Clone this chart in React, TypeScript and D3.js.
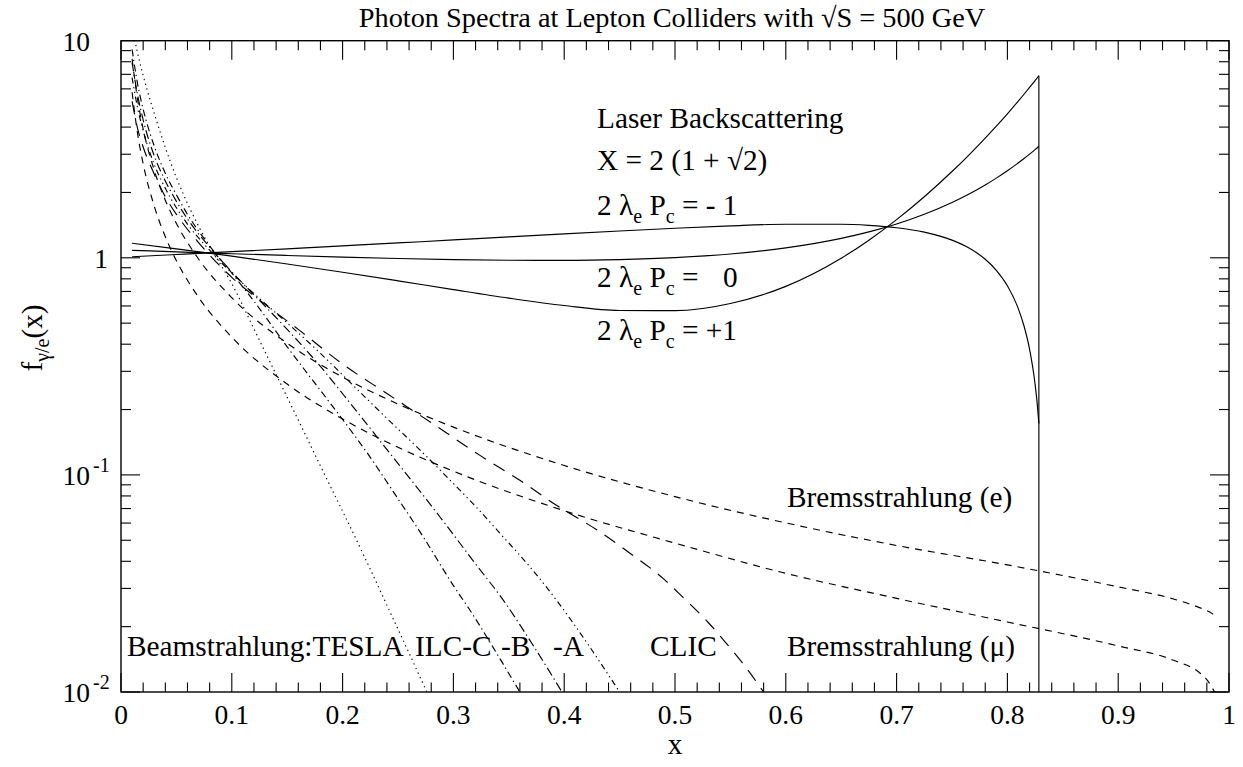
import React from 'react';
import * as d3 from 'd3';

const W = 1243;
const H = 767;
const PL = 121, PR = 1229, PT = 40.7, PB = 692;

// Laser backscattering (Compton) spectra, X = 2(1+sqrt2), x_max = 0.8284
const laserX = [0.01, 0.05, 0.1, 0.15, 0.2, 0.25, 0.3, 0.35, 0.4, 0.45, 0.5, 0.55, 0.6, 0.65, 0.675, 0.7, 0.725, 0.75, 0.765, 0.78, 0.79, 0.8, 0.81, 0.815, 0.82, 0.825, 0.827, 0.8284];
const laserMinus1 = [1.0113, 1.0354, 1.067, 1.0999, 1.1345, 1.1708, 1.2085, 1.2478, 1.2882, 1.3288, 1.3682, 1.4029, 1.4269, 1.427, 1.4104, 1.3753, 1.3122, 1.2059, 1.1114, 0.9843, 0.8758, 0.7432, 0.5803, 0.485, 0.3792, 0.2611, 0.2102, 0.1725];
const laserZero = [1.0827, 1.0651, 1.0443, 1.025, 1.0076, 0.9927, 0.9811, 0.9741, 0.9733, 0.9812, 1.0018, 1.0415, 1.1107, 1.2287, 1.3162, 1.432, 1.5871, 1.7986, 1.9632, 2.1661, 2.3284, 2.5175, 2.7394, 2.865, 3.0017, 3.1511, 3.2146, 3.2614];
const laserPlus1 = [1.1668, 1.1001, 1.0177, 0.9367, 0.8582, 0.7832, 0.7135, 0.652, 0.6027, 0.5721, 0.5707, 0.616, 0.7386, 0.9953, 1.2054, 1.4989, 1.9109, 2.4965, 2.9661, 3.5576, 4.0387, 4.6064, 5.2814, 5.6669, 6.0893, 6.5533, 6.7517, 6.898];
const laserEdgeX = 0.8284;

// Beamstrahlung spectra
const teslaX = [0.01, 0.0126, 0.02, 0.03, 0.04, 0.05, 0.06, 0.07, 0.08, 0.09, 0.1, 0.12, 0.14, 0.16, 0.18, 0.2, 0.22, 0.24, 0.26, 0.276];
const teslaY = [11.8, 10.0, 6.92, 4.63, 3.22, 2.34, 1.78, 1.4, 1.13, 0.93, 0.76, 0.47, 0.29, 0.179, 0.11, 0.068, 0.0417, 0.0251, 0.0151, 0.01];
const ilcCX = [0.01, 0.015, 0.02, 0.03, 0.04, 0.05, 0.06, 0.08, 0.1, 0.12, 0.15, 0.18, 0.2, 0.2247, 0.25, 0.2728, 0.3, 0.315, 0.34, 0.36];
const ilcCY = [9.12, 6.31, 4.84, 3.27, 2.45, 1.95, 1.585, 1.135, 0.851, 0.631, 0.389, 0.245, 0.18, 0.121, 0.0776, 0.0518, 0.0309, 0.0238, 0.0148, 0.01];
const ilcBX = [0.01, 0.015, 0.02, 0.03, 0.04, 0.05, 0.06, 0.08, 0.1, 0.12, 0.15, 0.18, 0.21, 0.2428, 0.2879, 0.32, 0.345, 0.37, 0.398];
const ilcBY = [7.94, 5.62, 4.32, 2.95, 2.26, 1.82, 1.51, 1.12, 0.861, 0.676, 0.468, 0.316, 0.204, 0.1256, 0.064, 0.0389, 0.0265, 0.017, 0.01];
const ilcAX = [0.01, 0.015, 0.02, 0.03, 0.04, 0.05, 0.06, 0.08, 0.1, 0.12, 0.15, 0.18, 0.21, 0.24, 0.27, 0.294, 0.32, 0.345, 0.37, 0.393, 0.42, 0.45];
const ilcAY = [6.76, 4.9, 3.85, 2.69, 2.09, 1.7, 1.43, 1.084, 0.851, 0.684, 0.501, 0.363, 0.257, 0.182, 0.13, 0.098, 0.0716, 0.0518, 0.0372, 0.0265, 0.017, 0.01];
const clicX = [0.01, 0.015, 0.02, 0.03, 0.04, 0.05, 0.07, 0.1, 0.13, 0.16, 0.2, 0.24, 0.28, 0.324, 0.36, 0.393, 0.43, 0.459, 0.49, 0.5075, 0.53, 0.5436, 0.56, 0.58];
const clicY = [5.25, 3.94, 3.24, 2.43, 1.91, 1.585, 1.175, 0.813, 0.61, 0.468, 0.324, 0.237, 0.174, 0.123, 0.0944, 0.0724, 0.0556, 0.0437, 0.0331, 0.0272, 0.0209, 0.0174, 0.0138, 0.01];

// Bremsstrahlung (Weizsaecker-Williams) spectra
const bremEX = [0.01, 0.015, 0.02, 0.03, 0.04, 0.05, 0.07, 0.1, 0.15, 0.2, 0.25, 0.3, 0.4, 0.5, 0.6, 0.7, 0.8, 0.9, 0.95, 0.974, 0.983, 0.99];
const bremEY = [8.25, 5.35, 3.92, 2.53, 1.84, 1.44, 0.987, 0.655, 0.404, 0.282, 0.212, 0.166, 0.1105, 0.0794, 0.0601, 0.0473, 0.0385, 0.0305, 0.0268, 0.0244, 0.0233, 0.022];
const bremMuX = [0.01, 0.015, 0.02, 0.03, 0.04, 0.05, 0.07, 0.1, 0.15, 0.2, 0.25, 0.3, 0.4, 0.5, 0.6, 0.7, 0.8, 0.9, 0.95, 0.974, 0.98, 0.987];
const bremMuY = [5.79, 3.72, 2.71, 1.73, 1.25, 0.97, 0.658, 0.431, 0.262, 0.181, 0.134, 0.104, 0.0684, 0.0485, 0.0352, 0.027, 0.021, 0.0163, 0.014, 0.0122, 0.0114, 0.01];

// Axis ticks
const xTickValues = [0, 0.1, 0.2, 0.3, 0.4, 0.5, 0.6, 0.7, 0.8, 0.9, 1];
const xTickLabels = ['0', '0.1', '0.2', '0.3', '0.4', '0.5', '0.6', '0.7', '0.8', '0.9', '1'];
const yTickValues = [10, 1, 0.1, 0.01];
const yTickBase = ['10', '1', '10', '10'];
const yTickExp = ['', '', '-1', '-2'];

const FONT = '"Liberation Serif", "Times New Roman", Times, serif';

export default function App() {
  const x = d3.scaleLinear().domain([0, 1]).range([PL, PR]);
  const y = d3.scaleLog().domain([0.01, 10]).range([PB, PT]);

  const line = (xs: number[], ys: number[]) =>
    d3
      .line<number>()
      .x((_, i) => x(xs[i]))
      .y((v) => y(v))
      .curve(d3.curveMonotoneX)(ys) || '';

  const curves = [
    { xs: laserX, ys: laserMinus1, dash: undefined },
    { xs: laserX, ys: laserZero, dash: undefined },
    { xs: laserX, ys: laserPlus1, dash: undefined },
    { xs: teslaX, ys: teslaY, dash: '1.3,3.7' },
    { xs: ilcCX, ys: ilcCY, dash: '7,3.5,1.3,3.5' },
    { xs: ilcBX, ys: ilcBY, dash: '9,3.5,1.3,3.5' },
    { xs: ilcAX, ys: ilcAY, dash: '6,3.5,1.3,3.5,1.3,3.5' },
    { xs: clicX, ys: clicY, dash: '13,9' },
    { xs: bremEX, ys: bremEY, dash: '7,6' },
    { xs: bremMuX, ys: bremMuY, dash: '7,6' },
  ];

  const minorX = d3.range(0, 51).map((i) => i * 0.02);
  const minorY: number[] = [];
  [-2, -1, 0].forEach((k) => {
    for (let m = 2; m <= 9; m++) minorY.push(m * Math.pow(10, k));
  });

  const textStyle = { fontFamily: FONT, fill: '#000' } as const;
  const LBL = 29.3;
  const SUB = 20;

  return (
    <svg
      width={W}
      height={H}
      style={{ position: 'absolute', left: 0, top: 0, background: '#fff' }}
    >
      <rect x={0} y={0} width={W} height={H} fill="#fff" />
      <defs>
        <clipPath id="plotClip">
          <rect x={PL} y={PT} width={PR - PL} height={PB - PT} />
        </clipPath>
      </defs>

      {/* Ticks */}
      <g stroke="#000" strokeWidth={1.1}>
        {minorX.map((v, i) => {
          const major = i % 5 === 0;
          const len = major ? 19 : 9.5;
          return (
            <g key={'xt' + i}>
              <line x1={x(v)} x2={x(v)} y1={PB} y2={PB - len} />
              <line x1={x(v)} x2={x(v)} y1={PT} y2={PT + len} />
            </g>
          );
        })}
        {yTickValues.map((v, i) => (
          <g key={'ytM' + i}>
            <line x1={PL} x2={PL + 19} y1={y(v)} y2={y(v)} />
            <line x1={PR} x2={PR - 19} y1={y(v)} y2={y(v)} />
          </g>
        ))}
        {minorY.map((v, i) => (
          <g key={'ytm' + i}>
            <line x1={PL} x2={PL + 10} y1={y(v)} y2={y(v)} />
            <line x1={PR} x2={PR - 10} y1={y(v)} y2={y(v)} />
          </g>
        ))}
      </g>

      {/* Curves */}
      <g clipPath="url(#plotClip)" fill="none" stroke="#000" strokeWidth={1.15}>
        {curves.map((c, i) => (
          <path key={'c' + i} d={line(c.xs, c.ys)} strokeDasharray={c.dash} />
        ))}
        <line
          x1={x(laserEdgeX)}
          x2={x(laserEdgeX)}
          y1={y(laserPlus1[laserPlus1.length - 1])}
          y2={PB}
        />
      </g>

      {/* Frame */}
      <rect x={PL} y={PT} width={PR - PL} height={PB - PT} fill="none" stroke="#000" strokeWidth={1.4} />

      {/* X tick labels */}
      {xTickValues.map((v, i) => (
        <text key={'xl' + i} x={x(v)} y={724} textAnchor="middle" fontSize={27.5} style={textStyle}>
          {xTickLabels[i]}
        </text>
      ))}

      {/* Y tick labels */}
      {yTickValues.map((v, i) =>
        yTickExp[i] === '' && yTickBase[i] === '1' ? (
          <text key={'yl' + i} x={108} y={y(v) + 10} textAnchor="end" fontSize={27.5} style={textStyle}>
            {yTickBase[i]}
          </text>
        ) : (
          <g key={'yl' + i}>
            <text x={90} y={y(v) + 10} textAnchor="end" fontSize={27.5} style={textStyle}>
              {yTickBase[i]}
            </text>
            {yTickExp[i] && (
              <text x={93} y={y(v) - 3} fontSize={SUB} style={textStyle}>
                {yTickExp[i]}
              </text>
            )}
          </g>
        )
      )}

      {/* Title */}
      <text x={672} y={26.5} textAnchor="middle" fontSize={28.3} style={textStyle}>
        Photon Spectra at Lepton Colliders with √S = 500 GeV
      </text>

      {/* Axis titles */}
      <text x={675} y={754} textAnchor="middle" fontSize={LBL} style={textStyle}>
        x
      </text>
      <text transform="translate(42,338) rotate(-90)" textAnchor="middle" fontSize={LBL} style={textStyle}>
        f<tspan fontSize={SUB} dy={7}>γ/e</tspan>
        <tspan dy={-7}>(x)</tspan>
      </text>

      {/* Laser annotations */}
      <g fontSize={LBL} style={textStyle}>
        <text x={597} y={128}>Laser Backscattering</text>
        <text x={597} y={170}>X = 2 (1 + √2)</text>
        <text x={597} y={215}>
          2 λ<tspan fontSize={SUB} dy={8}>e</tspan>
          <tspan dy={-8}> P</tspan>
          <tspan fontSize={SUB} dy={8}>c</tspan>
          <tspan dy={-8}> = - 1</tspan>
        </text>
        <text x={597} y={287}>
          2 λ<tspan fontSize={SUB} dy={8}>e</tspan>
          <tspan dy={-8}> P</tspan>
          <tspan fontSize={SUB} dy={8}>c</tspan>
          <tspan dy={-8}> =</tspan>
          <tspan x={723}>0</tspan>
        </text>
        <text x={597} y={340}>
          2 λ<tspan fontSize={SUB} dy={8}>e</tspan>
          <tspan dy={-8}> P</tspan>
          <tspan fontSize={SUB} dy={8}>c</tspan>
          <tspan dy={-8}> = +1</tspan>
        </text>

        <text x={787} y={507}>Bremsstrahlung (e)</text>
        <text x={127} y={656}>Beamstrahlung:TESLA</text>
        <text x={415} y={656}>ILC-C</text>
        <text x={501} y={656}>-B</text>
        <text x={553} y={656}>-A</text>
        <text x={650} y={656}>CLIC</text>
        <text x={787} y={656}>Bremsstrahlung (μ)</text>
      </g>
    </svg>
  );
}
